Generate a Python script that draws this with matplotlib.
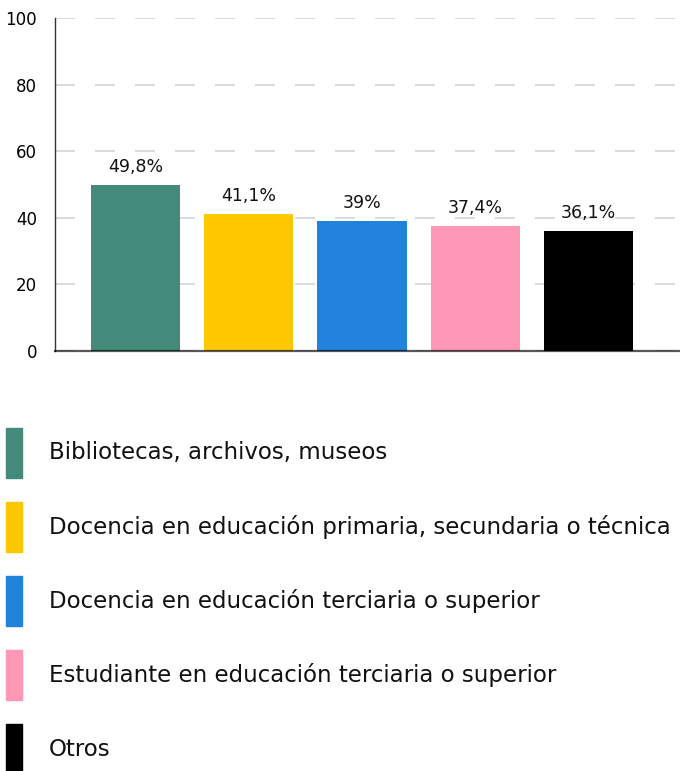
import matplotlib
matplotlib.use("Agg")
import matplotlib.pyplot as plt
from matplotlib.patches import Rectangle

plt.rcParams['font.family'] = ['DejaVu Sans']

# datos
categorias = ['Bibliotecas, archivos, museos',
              'Docencia en educación primaria, secundaria o técnica',
              'Docencia en educación terciaria o superior',
              'Estudiante en educación terciaria o superior',
              'Otros']
valores = [49.8, 41.1, 39.0, 37.4, 36.1]
etiquetas = ['49,8%', '41,1%', '39%', '37,4%', '36,1%']
colores = ['#438a7b', '#ffc700', '#2283dd', '#fe98b6', '#000000']
yticks = [0, 20, 40, 60, 80, 100]

W, H = 680, 771
fig = plt.figure(figsize=(W / 100, H / 100), dpi=100)
ax = fig.add_axes([55 / W, 1 - 351 / H, 1 - 55 / W, (351 - 18) / H])

x = list(range(len(valores)))
ax.bar(x, valores, width=0.79, color=colores, zorder=2)

for xi, v, t in zip(x, valores, etiquetas):
    ax.annotate(t, (xi, v), xytext=(0, 13), textcoords='offset points',
                ha='center', va='center', fontsize=12.5, color='#111111')

ax.set_xlim(-0.711, 4.808)
ax.set_ylim(0, 100)
ax.set_yticks(yticks)
ax.set_xticks([])
ax.tick_params(axis='y', length=0, pad=13, labelsize=12)
ax.grid(axis='y', color='#d4d4d4', linestyle=(0, (12, 12)), linewidth=1.2, zorder=0)

for s in ['top', 'right']:
    ax.spines[s].set_visible(False)
ax.spines['left'].set_color('#333333')
ax.spines['left'].set_linewidth(1.0)
ax.spines['bottom'].set_color((0, 0, 0, 0.65))
ax.spines['bottom'].set_linewidth(1.6)
ax.spines['bottom'].set_zorder(3)

# leyenda
for i, (c, lab) in enumerate(zip(colores, categorias)):
    yc = 453 + i * 74
    fig.patches.append(Rectangle((6 / W, 1 - (yc + 25) / H), 16 / W, 50 / H,
                                 transform=fig.transFigure, color=c))
    fig.text(49 / W, 1 - yc / H, lab, fontsize=16.5, va='center', ha='left',
             color='#111111')

fig.savefig('out.png', dpi=100)
